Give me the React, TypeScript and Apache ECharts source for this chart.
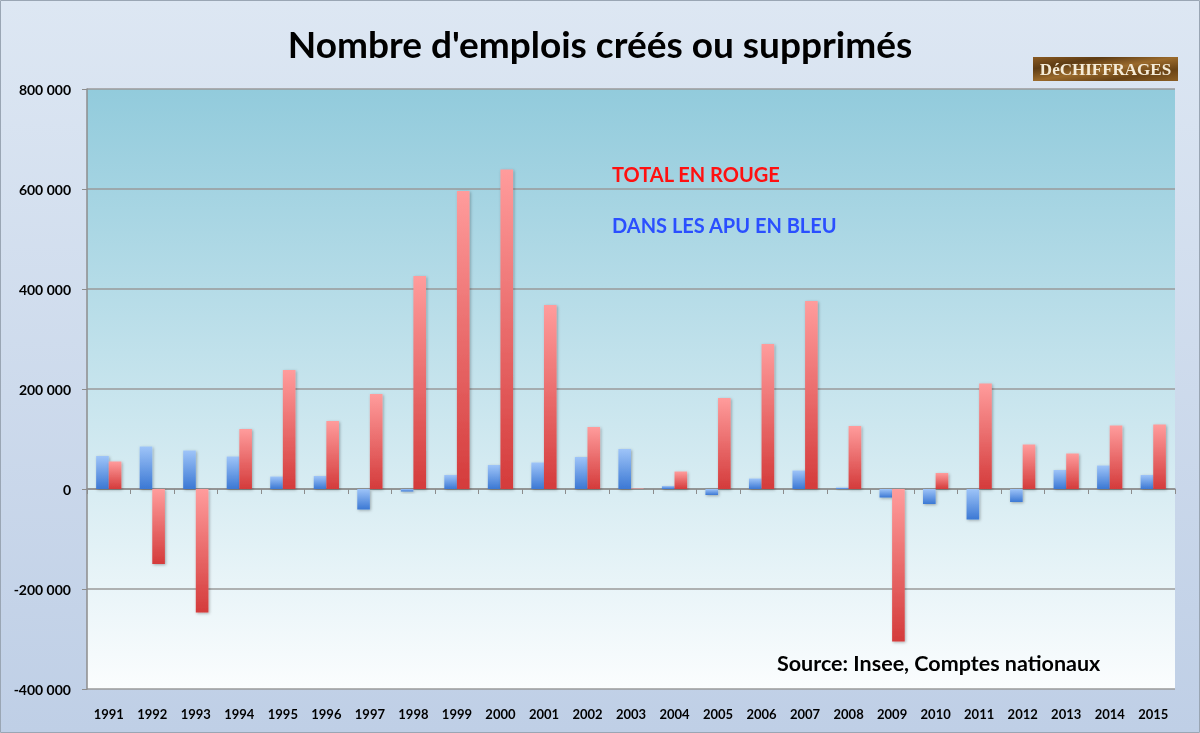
import React, { useEffect, useRef } from "react";
import * as echarts from "echarts";

const years = ["1991","1992","1993","1994","1995","1996","1997","1998","1999","2000","2001","2002","2003","2004","2005","2006","2007","2008","2009","2010","2011","2012","2013","2014","2015"];
const apuValues = [66000, 85000, 77000, 65000, 25000, 26000, -41000, -5000, 28000, 48000, 53000, 64000, 80000, 6000, -12000, 21000, 37000, 3000, -17000, -30000, -61000, -26000, 38000, 47000, 28000];
const totalValues = [55000, -150000, -247000, 120000, 238000, 136000, 190000, 426000, 596000, 639000, 368000, 124000, 1000, 35000, 182000, 290000, 376000, 126000, -305000, 32000, 211000, 89000, 71000, 127000, 129000];
const yMin = -400000;
const yMax = 800000;
const yStep = 200000;

const FONT = "Lato, 'Open Sans', sans-serif";

function fmt(v: number): string {
  const s = Math.abs(v).toString().replace(/\B(?=(\d{3})+(?!\d))/g, " ");
  return (v < 0 ? "-" : "") + s;
}

export default function App() {
  const ref = useRef<HTMLDivElement>(null);
  useEffect(() => {
    if (!ref.current) return;
    const chart = echarts.init(ref.current, null, { renderer: "svg" });
    const vGrad = (a: string, b: string) =>
      new echarts.graphic.LinearGradient(0, 0, 0, 1, [
        { offset: 0, color: a },
        { offset: 1, color: b },
      ]);
    const shadowText = {
      shadowBlur: 3,
      shadowColor: "rgba(0,0,0,0.35)",
      shadowOffsetX: 1,
      shadowOffsetY: 2,
    };
    chart.setOption({
      animation: false,
      graphic: [
        {
          type: "rect",
          z: -100,
          shape: { x: 0.5, y: 0.5, width: 1199, height: 732 },
          style: { fill: vGrad("#dde7f3", "#bfcfe6"), stroke: "#9aa6b4", lineWidth: 1 },
        },
        {
          type: "text",
          left: "center",
          top: 25,
          style: {
            text: "Nombre d'emplois créés ou supprimés",
            font: `bold 37px ${FONT}`,
            fill: "#000",
          },
        },
        {
          type: "group",
          left: 1033,
          top: 57,
          children: [
            {
              type: "rect",
              shape: { x: 0, y: 0, width: 145, height: 24 },
              style: {
                fill: new echarts.graphic.LinearGradient(0, 0, 1, 1, [
                  { offset: 0, color: "#8a5a22" },
                  { offset: 0.25, color: "#5e3c14" },
                  { offset: 0.5, color: "#9a6a2c" },
                  { offset: 0.75, color: "#6a4416" },
                  { offset: 1, color: "#8a5e24" },
                ]),
              },
            },
            {
              type: "text",
              x: 72.5,
              y: 12.5,
              style: {
                text: "DéCHIFFRAGES",
                font: "bold 17px 'Liberation Serif', 'DejaVu Serif', serif",
                fill: "#f5ecd8",
                align: "center",
                verticalAlign: "middle",
              },
            },
          ],
        },
        {
          type: "text",
          x: 612,
          y: 174,
          style: {
            text: "TOTAL EN ROUGE",
            font: `bold 20px ${FONT}`,
            fill: "#ff1010",
            verticalAlign: "middle",
            ...shadowText,
          },
        },
        {
          type: "text",
          x: 612,
          y: 225,
          style: {
            text: "DANS LES APU EN BLEU",
            font: `bold 20px ${FONT}`,
            fill: "#2a4fff",
            verticalAlign: "middle",
            ...shadowText,
          },
        },
        {
          type: "text",
          x: 777,
          y: 663,
          style: {
            text: "Source: Insee, Comptes nationaux",
            font: `bold 21.5px ${FONT}`,
            fill: "#000",
            verticalAlign: "middle",
            ...shadowText,
          },
        },
      ],
      grid: {
        left: 87,
        top: 89,
        width: 1088,
        height: 600,
        show: true,
        borderWidth: 0,
        backgroundColor: vGrad("#92cbdc", "#fbfdfe"),
      },
      xAxis: [
        {
          type: "category",
          data: years,
          axisLine: { onZero: true, lineStyle: { color: "#8c8c8c", width: 1.5 } },
          axisTick: { show: true, length: 5, lineStyle: { color: "#8c8c8c" } },
          axisLabel: { show: false },
        },
        {
          type: "category",
          data: years,
          position: "bottom",
          axisLine: { show: false, onZero: false },
          axisTick: { show: false },
          axisLabel: {
            show: true,
            margin: 18,
            color: "#000",
            fontWeight: "bold",
            fontSize: 13,
            fontFamily: FONT,
          },
        },
      ],
      yAxis: {
        type: "value",
        min: yMin,
        max: yMax,
        interval: yStep,
        axisLine: { show: true, lineStyle: { color: "#8c8c8c", width: 1.5 } },
        axisTick: { show: true, length: 5, lineStyle: { color: "#8c8c8c" } },
        axisLabel: {
          margin: 16,
          color: "#000",
          fontWeight: "bold",
          fontSize: 14,
          fontFamily: FONT,
          formatter: (v: number) => fmt(v),
        },
        splitLine: { show: true, lineStyle: { color: "#9a9a9a", width: 1.5 } },
      },
      series: [
        {
          type: "bar",
          name: "APU",
          data: apuValues,
          xAxisIndex: 0,
          barGap: "0%",
          barCategoryGap: "42%",
          itemStyle: {
            color: vGrad("#9ec4f8", "#3b78d4"),
            shadowBlur: 3,
            shadowColor: "rgba(0,0,0,0.3)",
            shadowOffsetX: 1,
            shadowOffsetY: 1,
          },
        },
        {
          type: "bar",
          name: "Total",
          data: totalValues,
          xAxisIndex: 0,
          barGap: "0%",
          barCategoryGap: "42%",
          itemStyle: {
            color: vGrad("#ff9c9c", "#d43b3b"),
            shadowBlur: 3,
            shadowColor: "rgba(0,0,0,0.3)",
            shadowOffsetX: 1,
            shadowOffsetY: 1,
          },
        },
      ],
    });
    return () => chart.dispose();
  }, []);
  return (
    <div
      ref={ref}
      style={{ position: "fixed", left: 0, top: 0, width: 1200, height: 733 }}
    />
  );
}
